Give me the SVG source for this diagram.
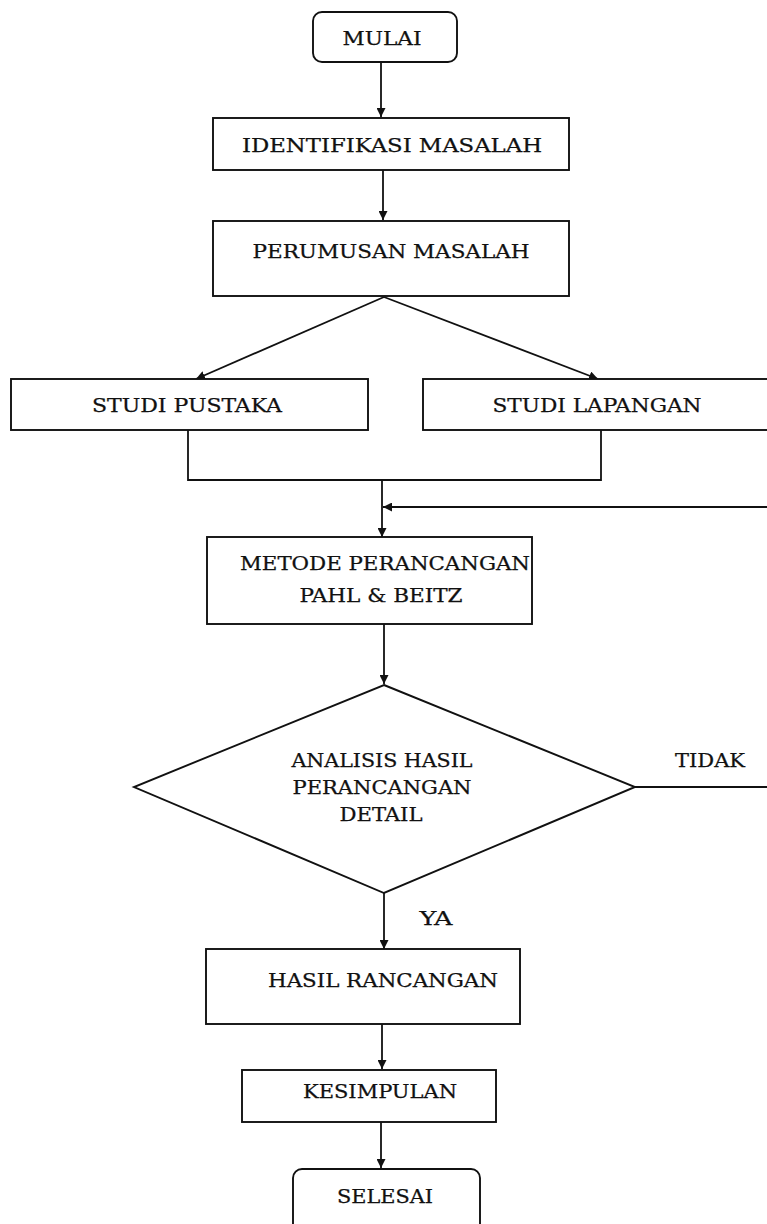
<svg xmlns="http://www.w3.org/2000/svg" width="767" height="1224" viewBox="0 0 767 1224">
<style>
  .box { fill: #fff; stroke: #111; stroke-width: 1.9; }
  .ln { fill: none; stroke: #111; stroke-width: 1.8; }
  .arr { fill: none; stroke: #111; stroke-width: 1.8; marker-end: url(#ah); }
  text { font-family: "DejaVu Serif Condensed", "DejaVu Serif", "Liberation Serif", serif; font-size: 19px; fill: #111; text-anchor: middle; stroke: #111; stroke-width: 0.25; }
</style>
<defs>
  <marker id="ah" viewBox="0 0 10 10" refX="10" refY="5" markerWidth="9" markerHeight="9" markerUnits="userSpaceOnUse" orient="auto">
    <path d="M0,0 L10,5 L0,10 z" fill="#111"/>
  </marker>
</defs>
<rect width="767" height="1224" fill="#fff"/>
<g id="connectors">
  <line class="arr" x1="381" y1="62" x2="381" y2="117"/>
  <line class="arr" x1="383" y1="170" x2="383" y2="220"/>
  <line class="arr" x1="384" y1="297" x2="196" y2="379"/>
  <line class="arr" x1="384" y1="297" x2="598" y2="379"/>
  <polyline class="ln" points="188,430 188,480 601,480 601,430"/>
  <line class="arr" x1="382" y1="480" x2="382" y2="537"/>
  <line class="arr" x1="767" y1="507" x2="383" y2="507"/>
  <line class="arr" x1="384" y1="624" x2="384" y2="684"/>
  <line class="ln" x1="635" y1="787" x2="767" y2="787"/>
  <line class="arr" x1="384" y1="893" x2="384" y2="949"/>
  <line class="arr" x1="382" y1="1024" x2="382" y2="1069"/>
  <line class="arr" x1="381" y1="1122" x2="381" y2="1168"/>
</g>
<g id="mulai">
  <rect class="box" x="313" y="12" width="144" height="50" rx="9"/>
  <text x="382" y="45" textLength="79" lengthAdjust="spacingAndGlyphs">MULAI</text>
</g>
<g id="identifikasi">
  <rect class="box" x="213" y="118" width="356" height="52"/>
  <text x="392" y="152" textLength="300" lengthAdjust="spacingAndGlyphs">IDENTIFIKASI  MASALAH</text>
</g>
<g id="perumusan">
  <rect class="box" x="213" y="221" width="356" height="75"/>
  <text x="391" y="258" textLength="277" lengthAdjust="spacingAndGlyphs">PERUMUSAN MASALAH</text>
</g>
<g id="studi-pustaka">
  <rect class="box" x="11" y="379" width="357" height="51"/>
  <text x="187" y="412" textLength="190" lengthAdjust="spacingAndGlyphs">STUDI PUSTAKA</text>
</g>
<g id="studi-lapangan">
  <rect class="box" x="423" y="379" width="350" height="51"/>
  <text x="597" y="412" textLength="209" lengthAdjust="spacingAndGlyphs">STUDI LAPANGAN</text>
</g>
<g id="metode">
  <rect class="box" x="207" y="537" width="325" height="87"/>
  <text x="385" y="570" textLength="290" lengthAdjust="spacingAndGlyphs">METODE  PERANCANGAN</text>
  <text x="381" y="602" textLength="163" lengthAdjust="spacingAndGlyphs">PAHL &amp; BEITZ</text>
</g>
<g id="analisis">
  <polygon class="box" points="384,685 635,787 384,893 134,787"/>
  <text x="382" y="767" textLength="181" lengthAdjust="spacingAndGlyphs">ANALISIS  HASIL</text>
  <text x="382" y="794" textLength="179" lengthAdjust="spacingAndGlyphs">PERANCANGAN</text>
  <text x="381" y="821" textLength="83" lengthAdjust="spacingAndGlyphs">DETAIL</text>
</g>
<g id="labels">
  <text x="710" y="767" textLength="70" lengthAdjust="spacingAndGlyphs">TIDAK</text>
  <text x="436" y="925" textLength="33" lengthAdjust="spacingAndGlyphs">YA</text>
</g>
<g id="hasil">
  <rect class="box" x="206" y="949" width="314" height="75"/>
  <text x="383" y="987" textLength="230" lengthAdjust="spacingAndGlyphs">HASIL  RANCANGAN</text>
</g>
<g id="kesimpulan">
  <rect class="box" x="242" y="1070" width="254" height="52"/>
  <text x="380" y="1098" textLength="154" lengthAdjust="spacingAndGlyphs">KESIMPULAN</text>
</g>
<g id="selesai">
  <rect class="box" x="293" y="1169" width="187" height="70" rx="9"/>
  <text x="385" y="1203" textLength="96" lengthAdjust="spacingAndGlyphs">SELESAI</text>
</g>
</svg>
